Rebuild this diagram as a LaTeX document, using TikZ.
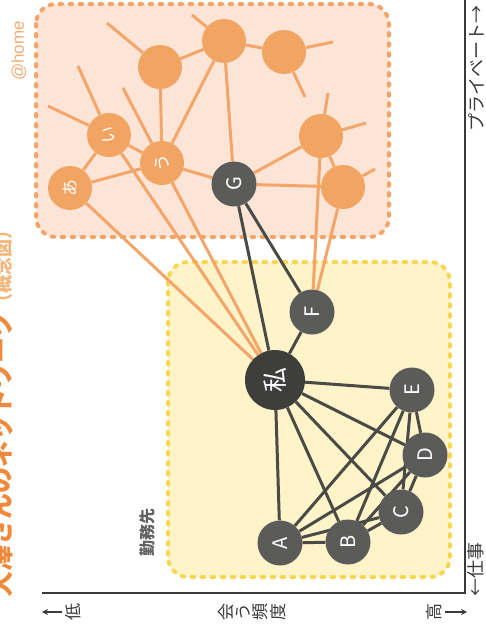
\documentclass[tikz,border=0pt]{standalone}
\usepackage{fontspec}
\setmainfont{Liberation Sans}
\newfontfamily\jpfont{Noto Sans CJK JP}
\usetikzlibrary{arrows.meta}

\definecolor{peachfill}{HTML}{FCE5D6}
\definecolor{peachdash}{HTML}{F4A466}
\definecolor{orangenode}{HTML}{F2A562}
\definecolor{orangeline}{HTML}{F3A56A}
\definecolor{yellowfill}{HTML}{FFF3C9}
\definecolor{yellowdash}{HTML}{F8D650}
\definecolor{darknode}{HTML}{5B5B5A}
\definecolor{selfgray}{HTML}{3E3E3D}
\definecolor{darkline}{HTML}{4A4A46}
\definecolor{axisgray}{HTML}{3A3A3A}
\definecolor{titleorange}{HTML}{F08A3A}
\definecolor{titlelight}{HTML}{F4B57A}
\definecolor{hometext}{HTML}{F5AE74}
\definecolor{tagtext}{HTML}{626262}

\pgfdeclarelayer{boxes}
\pgfdeclarelayer{links}
\pgfsetlayers{boxes,links,main}

\tikzset{
  areabox/.style={line width=4pt, dash pattern=on 2.5pt off 7.5pt, line cap=round, rounded corners=20pt},
  homebox/.style={areabox, fill=peachfill, draw=peachdash},
  workbox/.style={areabox, fill=yellowfill, draw=yellowdash},
  friend/.style={circle, fill=orangenode, minimum size=44pt, inner sep=0pt, text=white,
    font=\jpfont\fontsize{17}{17}\selectfont, rotate=90},
  colleague/.style={circle, fill=darknode, minimum size=45pt, inner sep=0pt, text=white,
    font=\jpfont\fontsize{20}{20}\selectfont, rotate=90},
  selfnode/.style={colleague, fill=selfgray, minimum size=60pt, font=\jpfont\fontsize{25}{25}\selectfont},
  privlink/.style={draw=orangeline, line width=3pt},
  worklink/.style={draw=darkline, line width=3pt},
  axislabel/.style={text=axisgray, font=\jpfont\fontsize{17}{17}\selectfont, rotate=90, inner sep=0pt},
  axisline/.style={draw=axisgray, line width=1.2pt},
  axisarrow/.style={draw=axisgray, line width=1.2pt, -{Stealth[length=6pt,width=6pt]}},
}

\begin{document}
\begin{tikzpicture}[x=1pt,y=-1pt]
\useasboundingbox (0,0) rectangle (485,632);

% home circle
\node[friend] (ah) at (70,188) {あ};
\node[friend] (ii) at (109,135) {い};
\node[friend] (uu) at (162,163) {う};
\node[friend] (f1) at (160,67) {};
\node[friend] (f2) at (224,41) {};
\node[friend] (f3) at (284,52) {};
\node[friend] (f4) at (321,136) {};
\node[friend] (f5) at (343,187) {};

% work circle
\node[colleague] (G) at (234,184) {G};
\node[colleague] (F) at (312,312) {F};
\node[selfnode] (me) at (275,380) {私};
\node[colleague] (A) at (280,543) {A};
\node[colleague] (B) at (348,542) {B};
\node[colleague] (C) at (401,512) {C};
\node[colleague] (D) at (425,455) {D};
\node[colleague] (E) at (412,390) {E};

% loose ends of links leaving the picture
\coordinate (s1) at (48,106);
\coordinate (s2) at (78,66);
\coordinate (s3) at (123,88);
\coordinate (s4) at (107,23);
\coordinate (s5) at (192,15);
\coordinate (s6) at (333,42);
\coordinate (s7) at (305,97);
\coordinate (s8) at (328,93);
\coordinate (s9) at (366,123);
\coordinate (s10) at (375,169);

\begin{pgfonlayer}{boxes}
  \path[fill=white] (0,0) rectangle (485,632);
  \path[homebox] (36,4) rectangle (389,237);
  \path[workbox] (168,262) rectangle (450,577);
\end{pgfonlayer}

\begin{pgfonlayer}{links}
  \foreach \a/\b in {ii/s1, ii/s2, uu/s3, f1/s4, f2/s5, f3/s6, f3/s7, f4/s8, f4/s9, f5/s10,
                     ah/ii, ah/uu, ii/uu, uu/f1, uu/f2, f1/f2, f2/f3, f2/G, uu/G,
                     G/f4, G/f5, f4/f5, f4/F, f5/F, ah/me, ii/me, uu/me}
    \draw[privlink] (\a) -- (\b);
  \foreach \a/\b in {G/me, G/F, F/me,
                     me/A, me/B, me/C, me/D, me/E,
                     A/B, A/C, A/D, A/E, B/C, B/D, B/E, C/D, C/E, D/E}
    \draw[worklink] (\a) -- (\b);
\end{pgfonlayer}

% labels
\node[rotate=90, anchor=west, inner sep=0pt, text=titleorange,
      font=\jpfont\bfseries\fontsize{26}{26}\selectfont] (title) at (1,598)
      {大澤さんのネットワーク{\color{titlelight}\fontsize{18}{18}\selectfont（概念図）}};
\node[rotate=90, inner sep=0pt, text=hometext, font=\fontsize{17}{17}\selectfont] (hometag) at (19,51) {@home};
\node[rotate=90, inner sep=0pt, text=tagtext, font=\jpfont\bfseries\fontsize{16}{16}\selectfont] (worktag) at (147,532) {勤務先};

% axes
\coordinate (axL) at (42,593);
\coordinate (axC) at (465,593);
\coordinate (axT) at (465,0);
\draw[axisline] (axL) -- (axC) -- (axT);

\node[axislabel] (low) at (73,612) {低};
\coordinate (lowtip) at (42,612);
\draw[axisarrow] ([xshift=-3pt]low.north) -- (lowtip);
\foreach \ch/\x in {会/226, う/243, 頻/260, 度/278}
  \node[axislabel] (freq\x) at (\x,612) {\ch};
\node[axislabel] (high) at (434,612) {高};
\coordinate (hightip) at (467,612);
\draw[axisarrow] ([xshift=3pt]high.south) -- (hightip);

\node[axislabel, anchor=east, font=\jpfont\fontsize{18}{18}\selectfont] (priv) at (476,5) {プライベート→};
\node[axislabel, anchor=west, font=\jpfont\fontsize{18}{18}\selectfont] (work) at (476,597) {←仕事};
\end{tikzpicture}
\end{document}
